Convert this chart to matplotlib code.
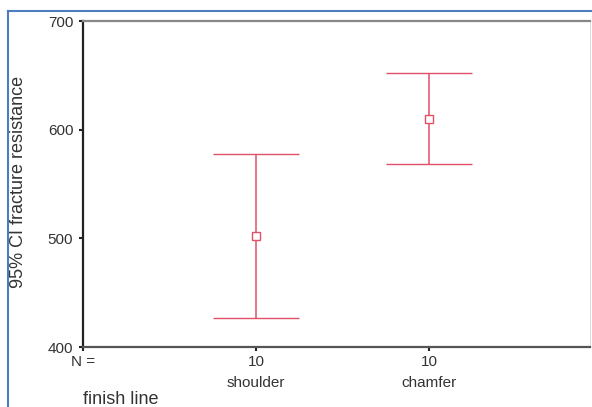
import matplotlib.pyplot as plt
from matplotlib.lines import Line2D

plt.rcParams['font.family'] = ['Liberation Sans', 'DejaVu Sans']

# data
categories = ["shoulder", "chamfer"]
n_values = [10, 10]
means = [502, 610]
ci_lower = [427, 568]
ci_upper = [578, 652]

positions = [1, 2]
red = "#e05068"
txt = "#333333"

fig = plt.figure(figsize=(5.92, 4.07), dpi=100)
ax = fig.add_axes([83 / 592, (407 - 347) / 407, (590 - 83) / 592, (347 - 21) / 407])

yerr = [[m - lo for m, lo in zip(means, ci_lower)],
        [hi - m for m, hi in zip(means, ci_upper)]]
ax.errorbar(positions, means, yerr=yerr, fmt="s", color=red, ecolor=red,
            elinewidth=1.1, capsize=31, capthick=1.1,
            markersize=6, markerfacecolor="white", markeredgecolor=red,
            markeredgewidth=1.0)

ax.set_xlim(0, 2.93)
ax.set_ylim(400, 700)
ax.set_yticks([400, 500, 600, 700])
ax.set_xticks([0] + positions)
ax.set_xticklabels(["N ="] + [str(n) for n in n_values])
ax.tick_params(axis="both", direction="out", length=3, width=1.5,
               labelsize=11, labelcolor=txt, color="#222222")
ax.tick_params(axis="x", pad=3)
ax.tick_params(axis="y", pad=4)

for p, c in zip(positions, categories):
    ax.text(p, -0.11, c, transform=ax.get_xaxis_transform(),
            ha="center", va="center", fontsize=11, color=txt)

ax.spines["left"].set_color("#222222")
ax.spines["left"].set_linewidth(1.6)
ax.spines["bottom"].set_color("#555555")
ax.spines["bottom"].set_linewidth(1.6)
ax.spines["top"].set_color("#888888")
ax.spines["top"].set_linewidth(1.6)
ax.spines["right"].set_color("#dddddd")
ax.spines["right"].set_linewidth(0.8)

ax.set_ylabel("95% CI fracture resistance", fontsize=13, color=txt,
              va="center")
ax.yaxis.set_label_coords(-(83 - 19) / 507, (347 - 182) / 326)
fig.text(83 / 592, 1 - 399 / 407, "finish line", ha="left", va="center",
         fontsize=13, color=txt)

# blue frame of the screenshot
fig.add_artist(Line2D([8 / 592, 8 / 592], [0, 1 - 11 / 407],
                      transform=fig.transFigure, color="#4a7ebf", lw=1.5))
fig.add_artist(Line2D([8 / 592, 1], [1 - 11 / 407, 1 - 11 / 407],
                      transform=fig.transFigure, color="#4a7ebf", lw=1.5))

fig.savefig("out.png", dpi=100)
